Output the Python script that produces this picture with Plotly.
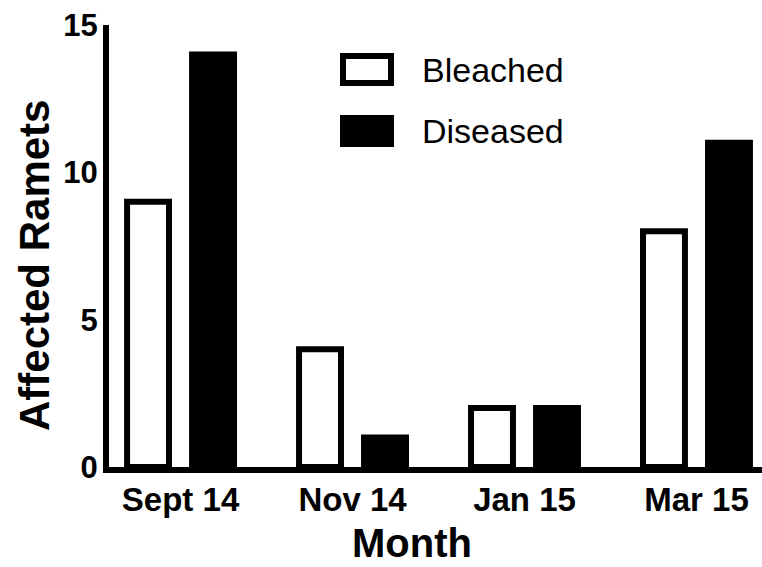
import plotly.graph_objects as go

months = ["Sept 14", "Nov 14", "Jan 15", "Mar 15"]
bleached = [9, 4, 2, 8]
diseased = [14, 1, 2, 11]
y_ticks = [0, 5, 10, 15]

FONT = "Liberation Sans, Arial, Helvetica, sans-serif"
W, H = 762, 567
L, R, T, B = 109, 0, 25, 100

fig = go.Figure()
fig.add_trace(go.Bar(
    x=months, y=bleached, name="Bleached",
    marker=dict(color="white", line=dict(color="black", width=6)),
))
fig.add_trace(go.Bar(
    x=months, y=diseased, name="Diseased",
    marker=dict(color="black", line=dict(color="black", width=6)),
))

fig.update_layout(
    width=W, height=H,
    margin=dict(l=L, r=R, t=T, b=B),
    plot_bgcolor="white", paper_bgcolor="white",
    barmode="group", bargap=0.244, bargroupgap=0.355,
    showlegend=False,
    font=dict(family=FONT, color="black"),
)
fig.update_xaxes(
    range=[-0.416, 3.381],
    showline=True, linecolor="black", linewidth=6,
    showgrid=False, zeroline=False, ticks="",
    tickfont=dict(size=33, family=FONT, weight="bold"),
    ticklabelstandoff=-2,
)
fig.update_yaxes(
    range=[0, 15], tickvals=y_ticks,
    showline=True, linecolor="black", linewidth=6,
    showgrid=False, zeroline=False, ticks="",
    tickfont=dict(size=31, family=FONT, weight="bold"),
    ticklabelstandoff=-1,
)

# pixel -> paper helpers for the legend and axis titles
def px(xp):
    return (xp - L) / (W - L - R)

def py(yp):
    return (H - B - yp) / (H - T - B)

# legend: outlined box for Bleached, filled box for Diseased
fig.add_shape(type="rect", xref="paper", yref="paper",
              x0=px(343), x1=px(391), y0=py(83), y1=py(56),
              line=dict(color="black", width=6), fillcolor="white")
fig.add_shape(type="rect", xref="paper", yref="paper",
              x0=px(340), x1=px(394), y0=py(147), y1=py(115),
              line=dict(width=0), fillcolor="black")
for label, yc in (("Bleached", 70), ("Diseased", 131)):
    fig.add_annotation(text=label, xref="paper", yref="paper",
                       x=px(420), y=py(yc), xanchor="left", yanchor="middle",
                       showarrow=False, font=dict(size=34, family=FONT))

fig.add_annotation(text="<b>Month</b>", xref="paper", yref="paper",
                   x=px(412), y=py(543), xanchor="center", yanchor="middle",
                   showarrow=False, font=dict(size=40, family=FONT))
fig.add_annotation(text="<b>Affected Ramets</b>", xref="paper", yref="paper",
                   x=px(34), y=py(266), xanchor="center", yanchor="middle",
                   textangle=-90, showarrow=False, font=dict(size=42, family=FONT))

fig.write_html("out.html")
